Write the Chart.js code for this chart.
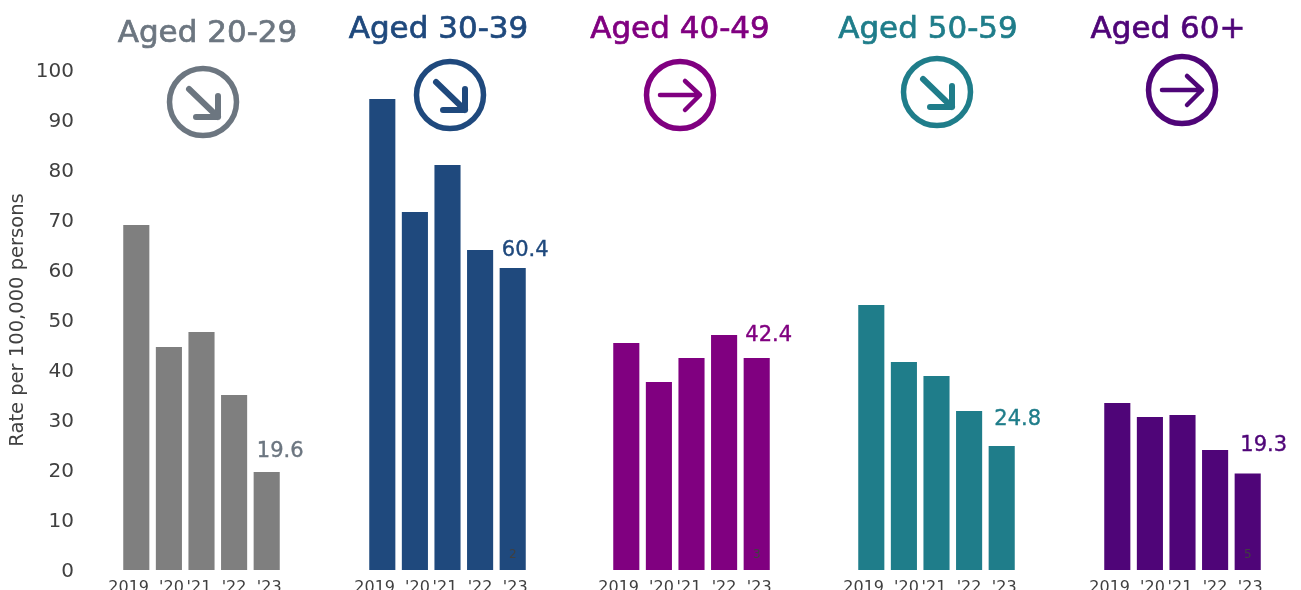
<!DOCTYPE html>
<html>
<head>
<meta charset="utf-8">
<title>Rate per 100,000 persons by age group</title>
<script src="https://cdn.jsdelivr.net/npm/chart.js@4"></script>
<style>
  html, body { margin: 0; padding: 0; background: #fff; overflow: hidden; }
  #wrap { position: relative; width: 1301px; height: 590px; overflow: hidden; }
  canvas { position: absolute; top: 0; display: block; }
</style>
</head>
<body>
<div id="wrap"></div>
<script>
const years = ["2019", "'20", "'21", "'22", "'23"];
const yTicks = [0, 10, 20, 30, 40, 50, 60, 70, 80, 90, 100];

const titles = ["Aged 20-29", "Aged 30-39", "Aged 40-49", "Aged 50-59", "Aged 60+"];
const aged20 = [69, 44.6, 47.6, 35, 19.6];
const aged30 = [94.2, 71.6, 81, 64, 60.4];
const aged40 = [45.4, 37.6, 42.4, 47, 42.4];
const aged50 = [53, 41.6, 38.8, 31.8, 24.8];
const aged60 = [33.4, 30.6, 31, 24, 19.3];
const series = [aged20, aged30, aged40, aged50, aged60];
const trends = ["down", "down", "flat", "down", "flat"];
const notes = ["", "2", "3", "", "5"];

const barColors = ["#7f7f7f", "#1f497d", "#800080", "#1f7d8a", "#4f0578"];
const textColors = ["#6c7680", "#1f497d", "#800080", "#1f7d8a", "#4f0578"];

// page position of each small multiple
const plotLeft = [120, 366, 610, 855, 1101];
const plotWidth = 163;
const titleX = [207.5, 438.5, 680, 928, 1168];
const titleY = [42, 38, 38, 38, 38];
const iconX = [203, 450, 680, 937, 1182];
const iconY = [102, 95, 95, 92, 90];
const valueDx = [13.5, 12.5, 12, 16, 16];
const valueDy = [20, 17, 22, 26, 28];
// spaces added beside the year labels, negative pushes the label left
const tickNudge = [-3, 1, -1, 0, 1];

const fontFamily = "'DejaVu Sans', sans-serif";
const sideRoom = 36;

function nudgedLabel(label, n) {
  const pad = " ".repeat(Math.abs(n));
  return n < 0 ? label + pad : pad + label;
}

function drawIcon(ctx, x, y, color, trend) {
  ctx.save();
  ctx.strokeStyle = color;
  ctx.lineCap = "round";
  ctx.lineJoin = "round";
  ctx.lineWidth = 5.5;
  ctx.beginPath();
  ctx.arc(x, y, 33.5, 0, Math.PI * 2);
  ctx.stroke();
  ctx.beginPath();
  if (trend === "down") {
    ctx.lineWidth = 6;
    ctx.moveTo(x - 14, y - 13);
    ctx.lineTo(x + 15, y + 15);
    ctx.moveTo(x + 15, y - 6);
    ctx.lineTo(x + 15, y + 15);
    ctx.lineTo(x - 7, y + 15);
  } else {
    ctx.lineWidth = 4.5;
    ctx.moveTo(x - 20, y);
    ctx.lineTo(x + 20, y);
    ctx.moveTo(x + 5, y - 14);
    ctx.lineTo(x + 20, y);
    ctx.lineTo(x + 5, y + 15);
  }
  ctx.stroke();
  ctx.restore();
}

// heading, trend icon, last-year value and footnote marker of one panel
const panelText = {
  id: "panelText",
  afterDatasetsDraw(chart, args, opts) {
    const i = opts.index;
    const ctx = chart.ctx;
    const offset = opts.canvasLeft;
    const last = series[i].length - 1;
    const bar = chart.getDatasetMeta(0).data[last];

    ctx.save();
    ctx.textBaseline = "alphabetic";
    ctx.textAlign = "center";
    ctx.fillStyle = textColors[i];
    ctx.strokeStyle = textColors[i];
    ctx.lineWidth = 0.7;
    ctx.font = "31px " + fontFamily;
    ctx.fillText(titles[i], titleX[i] - offset, titleY[i]);
    ctx.strokeText(titles[i], titleX[i] - offset, titleY[i]);

    ctx.textBaseline = "middle";
    ctx.lineWidth = 0.4;
    ctx.font = "21px " + fontFamily;
    const valueText = series[i][last].toFixed(1);
    ctx.fillText(valueText, bar.x + valueDx[i], bar.y - valueDy[i]);
    ctx.strokeText(valueText, bar.x + valueDx[i], bar.y - valueDy[i]);

    if (notes[i]) {
      ctx.fillStyle = "#404040";
      ctx.font = "12px " + fontFamily;
      ctx.fillText(notes[i], bar.x, chart.scales.y.bottom - 15);
    }
    ctx.restore();

    drawIcon(ctx, iconX[i] - offset, iconY[i], textColors[i], trends[i]);
  }
};

series.forEach(function (values, i) {
  const first = i === 0;
  const canvasLeft = first ? 0 : plotLeft[i] - sideRoom;
  const padLeft = plotLeft[i] - canvasLeft;
  const canvasWidth = Math.ceil(padLeft + plotWidth + sideRoom);

  const canvas = document.createElement("canvas");
  canvas.width = canvasWidth;
  canvas.height = 590;
  canvas.style.left = canvasLeft + "px";
  document.getElementById("wrap").appendChild(canvas);

  const yAxis = {
    display: first,
    min: 0,
    max: 100,
    afterBuildTicks(scale) { scale.ticks = yTicks.map((v) => ({ value: v })); },
    grid: { display: false },
    border: { display: false },
    title: {
      display: true,
      text: "Rate per 100,000 persons",
      color: "#404040",
      font: { family: fontFamily, size: 19.5 },
      padding: { top: 6, bottom: 0 }
    },
    ticks: {
      color: "#404040",
      padding: 38,
      labelOffset: 2,
      font: { family: fontFamily, size: 20 }
    }
  };
  if (first) {
    // the wide tick padding would otherwise also be reserved above and below the plot
    yAxis.afterFit = function (scale) {
      scale.width = padLeft;
      scale.paddingTop = 0;
      scale.paddingBottom = 0;
    };
  }

  new Chart(canvas, {
    type: "bar",
    data: {
      labels: years,
      datasets: [{
        data: values,
        backgroundColor: barColors[i],
        barPercentage: 0.88,
        categoryPercentage: 0.91
      }]
    },
    plugins: [panelText],
    options: {
      responsive: false,
      animation: false,
      layout: {
        padding: {
          left: first ? 0 : padLeft,
          right: canvasWidth - padLeft - plotWidth,
          top: 70,
          bottom: 0
        }
      },
      plugins: {
        legend: { display: false },
        tooltip: { enabled: false },
        panelText: { index: i, canvasLeft: canvasLeft }
      },
      scales: {
        x: {
          grid: { display: false },
          border: { display: false },
          afterFit(scale) { scale.height = 20; },
          ticks: {
            color: "#404040",
            padding: 0,
            maxRotation: 0,
            autoSkip: false,
            font: { family: fontFamily, size: 16 },
            callback(value, index) {
              return nudgedLabel(years[index], tickNudge[index]);
            }
          }
        },
        y: yAxis
      }
    }
  });
});
</script>
</body>
</html>
